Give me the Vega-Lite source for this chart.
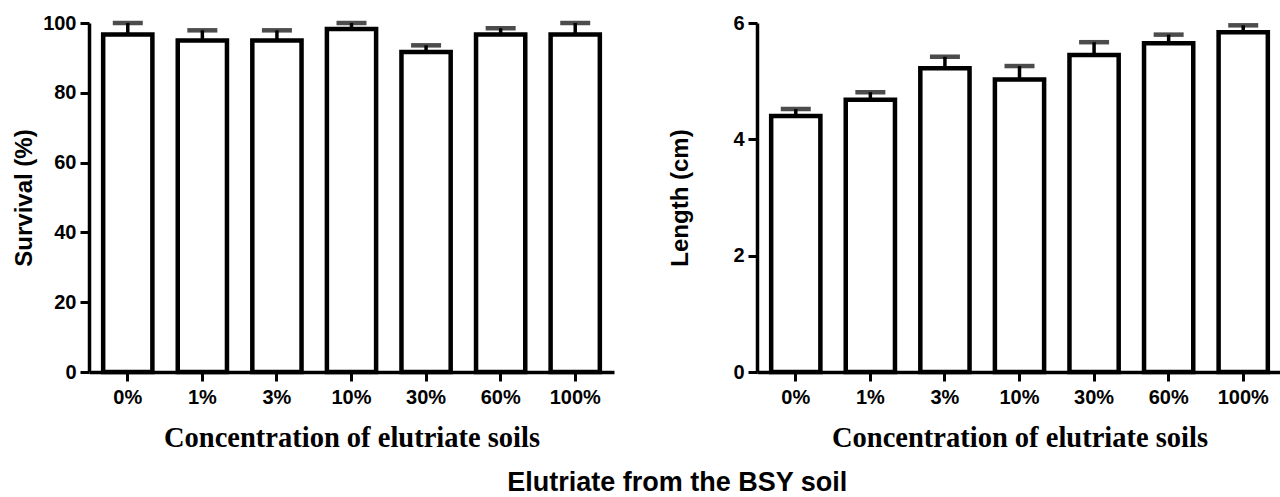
{
  "$schema": "https://vega.github.io/schema/vega-lite/v6.json",
  "background": "white",
  "padding": {"left": 12, "top": 13, "right": 0, "bottom": 0},
  "config": {
    "view": {"stroke": null},
    "axis": {
      "grid": false,
      "domainColor": "black",
      "domainWidth": 3.5,
      "tickColor": "black",
      "tickWidth": 3,
      "tickSize": 9,
      "labelColor": "black",
      "labelFont": "Liberation Sans",
      "labelFontWeight": "bold",
      "labelFontSize": 20,
      "labelPadding": 4,
      "titleColor": "black"
    }
  },
  "datasets": {
    "survival": [
      {"conc": "0%", "mean": 96.7, "upper": 100.0},
      {"conc": "1%", "mean": 95.0, "upper": 97.9},
      {"conc": "3%", "mean": 95.0, "upper": 97.9},
      {"conc": "10%", "mean": 98.3, "upper": 100.0},
      {"conc": "30%", "mean": 91.7, "upper": 93.6},
      {"conc": "60%", "mean": 96.7, "upper": 98.5},
      {"conc": "100%", "mean": 96.7, "upper": 100.0}
    ],
    "length": [
      {"conc": "0%", "mean": 4.40, "upper": 4.52},
      {"conc": "1%", "mean": 4.68, "upper": 4.81},
      {"conc": "3%", "mean": 5.22, "upper": 5.42},
      {"conc": "10%", "mean": 5.03, "upper": 5.26},
      {"conc": "30%", "mean": 5.45, "upper": 5.67},
      {"conc": "60%", "mean": 5.65, "upper": 5.80},
      {"conc": "100%", "mean": 5.84, "upper": 5.96}
    ]
  },
  "title": {
    "text": "Elutriate from the BSY soil",
    "orient": "bottom",
    "anchor": "middle",
    "font": "Liberation Sans",
    "fontWeight": "bold",
    "fontSize": 27,
    "color": "black",
    "offset": 18,
    "dx": 30
  },
  "spacing": 54,
  "hconcat": [
    {
      "width": 525,
      "height": 349,
      "data": {"name": "survival"},
      "encoding": {
        "x": {
          "field": "conc",
          "type": "nominal",
          "sort": ["0%", "1%", "3%", "10%", "30%", "60%", "100%"],
          "scale": {"paddingInner": 0.34, "paddingOuter": 0.19},
          "axis": {
            "labelAngle": 0,
            "labelPadding": 6,
            "title": "Concentration of elutriate soils",
            "titleFont": "Liberation Serif",
            "titleFontWeight": "bold",
            "titleFontSize": 28.5,
            "titlePadding": 16
          }
        }
      },
      "layer": [
        {
          "mark": {"type": "bar", "fill": "white", "stroke": "black", "strokeWidth": 4.5},
          "encoding": {
            "y": {
              "field": "mean",
              "type": "quantitative",
              "scale": {"domain": [0, 100], "nice": false},
              "axis": {
                "values": [0, 20, 40, 60, 80, 100],
                "title": "Survival (%)",
                "titleFont": "Liberation Sans",
                "titleFontWeight": "bold",
                "titleFontSize": 24,
                "titlePadding": 6
              }
            }
          }
        },
        {
          "mark": {"type": "rule", "color": "black", "strokeWidth": 3.5},
          "encoding": {
            "y": {"field": "mean", "type": "quantitative"},
            "y2": {"field": "upper"}
          }
        },
        {
          "mark": {"type": "tick", "color": "black", "size": 30, "thickness": 4.5},
          "encoding": {
            "y": {"field": "upper", "type": "quantitative"}
          }
        }
      ]
    },
    {
      "width": 525,
      "height": 349,
      "data": {"name": "length"},
      "encoding": {
        "x": {
          "field": "conc",
          "type": "nominal",
          "sort": ["0%", "1%", "3%", "10%", "30%", "60%", "100%"],
          "scale": {"paddingInner": 0.34, "paddingOuter": 0.19},
          "axis": {
            "labelAngle": 0,
            "labelPadding": 6,
            "title": "Concentration of elutriate soils",
            "titleFont": "Liberation Serif",
            "titleFontWeight": "bold",
            "titleFontSize": 28.5,
            "titlePadding": 16
          }
        }
      },
      "layer": [
        {
          "mark": {"type": "bar", "fill": "white", "stroke": "black", "strokeWidth": 4.5},
          "encoding": {
            "y": {
              "field": "mean",
              "type": "quantitative",
              "scale": {"domain": [0, 6], "nice": false},
              "axis": {
                "values": [0, 2, 4, 6],
                "format": "d",
                "title": "Length (cm)",
                "titleFont": "Liberation Sans",
                "titleFontWeight": "bold",
                "titleFontSize": 24,
                "titlePadding": 40
              }
            }
          }
        },
        {
          "mark": {"type": "rule", "color": "black", "strokeWidth": 3.5},
          "encoding": {
            "y": {"field": "mean", "type": "quantitative"},
            "y2": {"field": "upper"}
          }
        },
        {
          "mark": {"type": "tick", "color": "black", "size": 30, "thickness": 4.5},
          "encoding": {
            "y": {"field": "upper", "type": "quantitative"}
          }
        }
      ]
    }
  ]
}
